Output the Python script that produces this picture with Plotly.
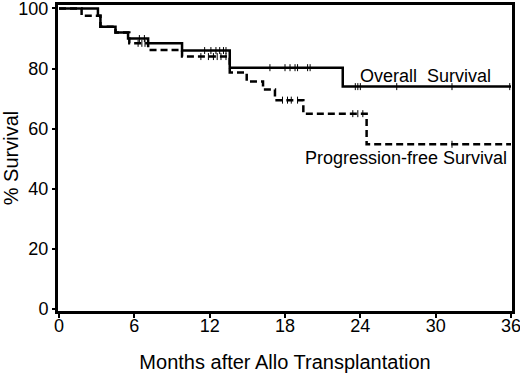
import plotly.graph_objects as go

# Overall survival step function (months, % survival)
os_t = [0, 3.1, 3.3, 4.5, 5.5, 7.1, 9.8, 13.6, 22.6, 36.0]
os_s = [100, 97.6, 93.9, 92.0, 90.0, 88.4, 86.0, 80.3, 74.0, 74.0]

# Progression-free survival step function
pfs_t = [0, 1.8, 3.3, 4.5, 5.6, 7.1, 9.8, 13.6, 14.95, 16.25, 17.2, 19.46, 24.5, 36.0]
pfs_s = [100, 97.6, 93.9, 92.0, 88.4, 86.2, 84.0, 78.7, 75.7, 73.0, 69.5, 65.0, 54.8, 54.8]

# Censored observations
os_cens_t = [6.4, 6.8, 11.6, 12.1, 12.5, 12.8, 13.1, 13.3, 16.8, 18.0, 18.4, 18.8, 19.0, 19.8, 20.0,
             23.6, 23.8, 24.0, 26.9, 31.3, 35.9]
os_cens_s = [90.0, 90.0, 86.0, 86.0, 86.0, 86.0, 86.0, 86.0, 80.3, 80.3, 80.3, 80.3, 80.3, 80.3, 80.3,
             74.0, 74.0, 74.0, 74.0, 74.0, 74.0]
pfs_cens_t = [6.3, 6.6, 6.85, 11.3, 11.9, 12.3, 12.6, 12.9, 13.3, 17.8, 18.2, 18.5, 19.0,
              23.4, 23.8, 24.2, 31.3]
pfs_cens_s = [88.4, 88.4, 88.4, 84.0, 84.0, 84.0, 84.0, 84.0, 84.0, 69.5, 69.5, 69.5, 69.5,
              65.0, 65.0, 65.0, 54.8]

x_ticks = [0, 6, 12, 18, 24, 30, 36]
y_ticks = [0, 20, 40, 60, 80, 100]

FONT = "Liberation Sans, Arial, sans-serif"

fig = go.Figure()
fig.add_trace(go.Scatter(x=os_t, y=os_s, mode="lines", line_shape="hv",
                         line=dict(color="black", width=2.5), name="Overall Survival",
                         showlegend=False))
fig.add_trace(go.Scatter(x=pfs_t, y=pfs_s, mode="lines", line_shape="hv",
                         line=dict(color="black", width=2.5, dash="7px,4px"),
                         name="Progression-free Survival", showlegend=False))
for ct, cs in [(os_cens_t, os_cens_s), (pfs_cens_t, pfs_cens_s)]:
    fig.add_trace(go.Scatter(x=ct, y=cs, mode="markers",
                             marker=dict(symbol="line-ns-open", size=5, color="black",
                                         line=dict(color="black", width=1)),
                             showlegend=False, hoverinfo="skip"))

fig.add_annotation(x=23.8, y=77.7, xref="x", yref="y", text="Overall\u00a0\u00a0Survival",
                   showarrow=False, xanchor="left", yanchor="middle",
                   font=dict(family=FONT, size=18, color="black"))
fig.add_annotation(x=35.84, y=50.2, xref="x", yref="y", text="Progression-free Survival",
                   showarrow=False, xanchor="right", yanchor="middle",
                   font=dict(family=FONT, size=18, color="black"))

fig.update_layout(
    width=520, height=373,
    margin=dict(l=58, r=8, t=5, b=62, autoexpand=False),
    paper_bgcolor="white", plot_bgcolor="white",
    font=dict(family=FONT, size=18, color="black"),
    xaxis=dict(range=[-0.08, 36.08], tickvals=x_ticks, ticktext=[str(v) for v in x_ticks],
               showgrid=False, zeroline=False, showline=True, linecolor="black", linewidth=3,
               mirror=True, ticks="outside", ticklen=4, tickwidth=1.5, tickcolor="black",
               ticklabeloverflow="allow", ticklabelstandoff=-8,
               tickfont=dict(family=FONT, size=18),
               title=dict(text="Months after Allo Transplantation", standoff=21,
                          font=dict(family=FONT, size=20))),
    yaxis=dict(range=[-0.67, 101.16], tickvals=y_ticks, ticktext=[str(v) for v in y_ticks],
               showgrid=False, zeroline=False, showline=True, linecolor="black", linewidth=3,
               mirror=True, ticks="outside", ticklen=3, tickwidth=1.5, tickcolor="black",
               ticklabeloverflow="allow", tickfont=dict(family=FONT, size=18),
               title=dict(text="% Survival", standoff=6, font=dict(family=FONT, size=20))),
)

fig.write_html("out.html", config={"displayModeBar": False},
               post_script="document.body.style.margin='0';")
